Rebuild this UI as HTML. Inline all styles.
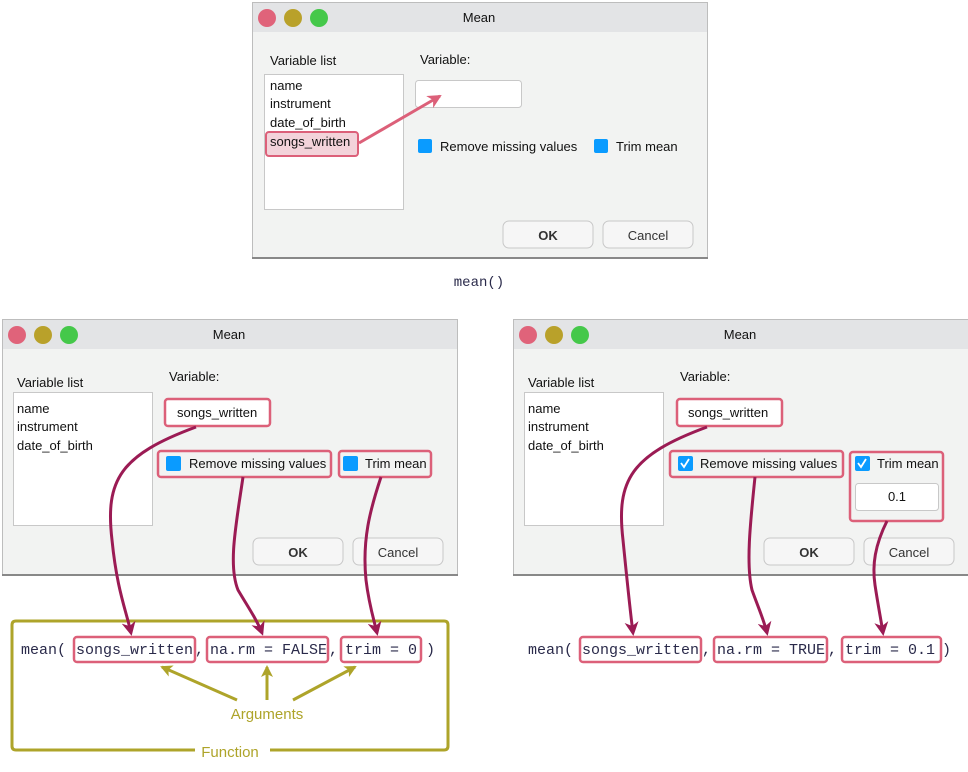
<!DOCTYPE html>
<html><head><meta charset="utf-8"><style>
body{margin:0;background:#fff}
svg text{font-family:"Liberation Sans",Arial,sans-serif;font-size:13px;fill:#111}
.mono{font-family:"Liberation Mono",monospace;font-size:15px;fill:#2a2a4a}
</style></head><body>
<svg width="968" height="767" viewBox="0 0 968 767" xmlns="http://www.w3.org/2000/svg">
<defs>
<g id="dlg">
 <rect x="0.5" y="0.5" width="455" height="256" fill="#f2f3f2" stroke="#bdbdbd"/>
 <rect x="1" y="1" width="454" height="29" fill="#e3e4e6"/>
 <line x1="0" y1="256" x2="456" y2="256" stroke="#888" stroke-width="2"/>
 <circle cx="15" cy="16" r="9" fill="#e0637a"/>
 <circle cx="41" cy="16" r="9" fill="#b9a12a"/>
 <circle cx="67" cy="16" r="9" fill="#45c84a"/>
 <text x="227" y="20" text-anchor="middle">Mean</text>
 <rect x="251" y="219" width="90" height="27" rx="6" fill="#f6f6f6" stroke="#c8c8c8"/>
 <text x="296" y="238" text-anchor="middle" font-weight="bold" style="fill:#333">OK</text>
 <rect x="351" y="219" width="90" height="27" rx="6" fill="#f6f6f6" stroke="#c8c8c8"/>
 <text x="396" y="238" text-anchor="middle" style="fill:#333">Cancel</text>
</g>
<marker id="mg" markerWidth="14" markerHeight="14" refX="11" refY="7" orient="auto" markerUnits="userSpaceOnUse"><path d="M0,0 L14,7 L0,14 L4,7z" fill="#9b1b54"/></marker>
<marker id="ol" markerWidth="12" markerHeight="12" refX="10" refY="6" orient="auto" markerUnits="userSpaceOnUse"><path d="M0,0 L12,6 L0,12 L3,6z" fill="#aea42a"/></marker>
<marker id="pk" markerWidth="14" markerHeight="14" refX="12" refY="7" orient="auto" markerUnits="userSpaceOnUse"><path d="M0,0 L14,7 L0,14 L4,7z" fill="#dc6079"/></marker>
</defs>

<use href="#dlg" x="252" y="2"/>
<text x="270" y="65">Variable list</text>
<rect x="264.5" y="74.5" width="139" height="135" fill="#fff" stroke="#c8c8c8"/>
<text x="270" y="90">name</text>
<text x="270" y="108">instrument</text>
<text x="270" y="127">date_of_birth</text>
<rect x="266" y="132" width="92" height="24" rx="3" fill="#f3d3da" stroke="#dc6079" stroke-width="2"/>
<text x="270" y="146">songs_written</text>
<text x="420" y="64">Variable:</text>
<rect x="415.5" y="80.5" width="106" height="27" rx="3" fill="#fff" stroke="#c8c8c8"/>
<rect x="418" y="139" width="14" height="14" rx="2" fill="#0a9bff"/>
<text x="440" y="151">Remove missing values</text>
<rect x="594" y="139" width="14" height="14" rx="2" fill="#0a9bff"/>
<text x="616" y="151">Trim mean</text>
<path d="M359,143 L440,96" stroke="#dc6079" stroke-width="3" fill="none" marker-end="url(#pk)"/>
<text class="mono" x="479" y="286" text-anchor="middle" style="font-size:14px">mean()</text>

<use href="#dlg" x="2" y="319"/>
<text x="17" y="387">Variable list</text>
<rect x="13.5" y="392.5" width="139" height="133" fill="#fff" stroke="#c8c8c8"/>
<text x="17" y="413">name</text>
<text x="17" y="431">instrument</text>
<text x="17" y="450">date_of_birth</text>
<text x="169" y="381">Variable:</text>
<rect x="165" y="399" width="105" height="27" rx="3" fill="#fff" stroke="#dc6079" stroke-width="2.5"/>
<text x="177" y="417">songs_written</text>
<rect x="158" y="451" width="173" height="26" rx="3" fill="#f2f3f2" stroke="#dc6079" stroke-width="2.5"/>
<rect x="166" y="456" width="15" height="15" rx="2" fill="#0a9bff"/>
<text x="189" y="468">Remove missing values</text>
<rect x="339" y="451" width="92" height="26" rx="3" fill="#f2f3f2" stroke="#dc6079" stroke-width="2.5"/>
<rect x="343" y="456" width="15" height="15" rx="2" fill="#0a9bff"/>
<text x="365" y="468">Trim mean</text>

<use href="#dlg" x="513" y="319"/>
<text x="528" y="387">Variable list</text>
<rect x="524.5" y="392.5" width="139" height="133" fill="#fff" stroke="#c8c8c8"/>
<text x="528" y="413">name</text>
<text x="528" y="431">instrument</text>
<text x="528" y="450">date_of_birth</text>
<text x="680" y="381">Variable:</text>
<rect x="677" y="399" width="105" height="27" rx="3" fill="#fff" stroke="#dc6079" stroke-width="2.5"/>
<text x="688" y="417">songs_written</text>
<rect x="670" y="451" width="173" height="26" rx="3" fill="#f2f3f2" stroke="#dc6079" stroke-width="2.5"/>
<rect x="678" y="456" width="15" height="15" rx="2" fill="#0a9bff"/>
<path d="M681,463 l3,4 l5,-8" stroke="#fff" stroke-width="1.8" fill="none"/>
<text x="700" y="468">Remove missing values</text>
<rect x="850" y="452" width="93" height="69" rx="3" fill="#f2f3f2" stroke="#dc6079" stroke-width="2.5"/>
<rect x="855" y="456" width="15" height="15" rx="2" fill="#0a9bff"/>
<path d="M858,463 l3,4 l5,-8" stroke="#fff" stroke-width="1.8" fill="none"/>
<text x="877" y="468">Trim mean</text>
<rect x="855.5" y="483.5" width="83" height="27" rx="3" fill="#fff" stroke="#c8c8c8"/>
<text x="897" y="501" text-anchor="middle">0.1</text>

<path d="M195,750 L16,750 Q12,750 12,746 L12,625 Q12,621 16,621 L444,621 Q448,621 448,625 L448,746 Q448,750 444,750 L270,750" stroke="#aea42a" stroke-width="3" fill="none"/>
<text x="230" y="757" text-anchor="middle" style="fill:#aea42a;font-size:15px">Function</text>
<text x="267" y="719" text-anchor="middle" style="fill:#aea42a;font-size:15px">Arguments</text>
<path d="M237,700 L162,667" stroke="#aea42a" stroke-width="3" marker-end="url(#ol)"/>
<path d="M267,700 L267,667" stroke="#aea42a" stroke-width="3" marker-end="url(#ol)"/>
<path d="M293,700 L355,667" stroke="#aea42a" stroke-width="3" marker-end="url(#ol)"/>

<text class="mono" x="21" y="654">mean(</text>
<rect x="74" y="637" width="121" height="25" rx="3" fill="none" stroke="#dc6079" stroke-width="2.5"/>
<text class="mono" x="76" y="654">songs_written</text><text class="mono" x="195" y="654">,</text>
<rect x="207" y="637" width="121" height="25" rx="3" fill="none" stroke="#dc6079" stroke-width="2.5"/>
<text class="mono" x="210" y="654">na.rm = FALSE</text><text class="mono" x="329" y="654">,</text>
<rect x="341" y="637" width="80" height="25" rx="3" fill="none" stroke="#dc6079" stroke-width="2.5"/>
<text class="mono" x="345" y="654">trim = 0</text><text class="mono" x="426" y="654">)</text>

<text class="mono" x="528" y="654">mean(</text>
<rect x="580" y="637" width="121" height="25" rx="3" fill="none" stroke="#dc6079" stroke-width="2.5"/>
<text class="mono" x="582" y="654">songs_written</text><text class="mono" x="702" y="654">,</text>
<rect x="714" y="637" width="113" height="25" rx="3" fill="none" stroke="#dc6079" stroke-width="2.5"/>
<text class="mono" x="717" y="654">na.rm = TRUE</text><text class="mono" x="828" y="654">,</text>
<rect x="842" y="637" width="99" height="25" rx="3" fill="none" stroke="#dc6079" stroke-width="2.5"/>
<text class="mono" x="845" y="654">trim = 0.1</text><text class="mono" x="942" y="654">)</text>

<g stroke="#9b1b54" stroke-width="3" fill="none" marker-end="url(#mg)">
<path d="M196,427 C120,455 105,480 112,540 C117,590 126,610 131,633"/>
<path d="M243,477 C236,525 228,565 238,590 C248,607 257,620 262,633"/>
<path d="M381,477 C370,510 362,540 366,580 C369,605 374,620 377,633"/>
<path d="M707,427 C631,455 616,480 623,540 C628,590 630,610 633,633"/>
<path d="M755,477 C750,525 746,565 752,590 C758,607 764,620 767,633"/>
<path d="M887,521 C875,545 872,565 875,585 C878,605 881,620 883,633"/>
</g>
</svg>
</body></html>
